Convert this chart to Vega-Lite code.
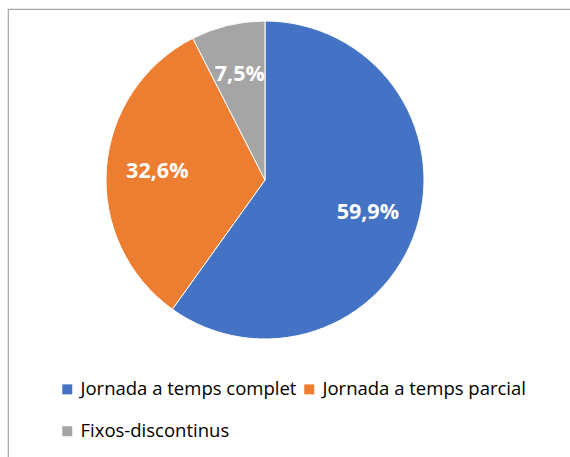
{
  "$schema": "https://vega.github.io/schema/vega-lite/v6.json",
  "autosize": {"type": "none"},
  "padding": {"left": 8, "top": 9, "right": 0, "bottom": 0},
  "width": 600,
  "height": 500,
  "background": "white",
  "view": {"stroke": "#a6a6a6", "strokeWidth": 1.2, "fill": "white"},
  "config": {
    "locale": {"number": {"decimal": ",", "thousands": ".", "grouping": [3], "currency": ["", " €"]}}
  },
  "data": {
    "values": [
      {"tipus": "Jornada a temps complet", "pct": 0.599, "ordre": 1},
      {"tipus": "Jornada a temps parcial", "pct": 0.326, "ordre": 2},
      {"tipus": "Fixos-discontinus", "pct": 0.075, "ordre": 3}
    ]
  },
  "encoding": {
    "theta": {"field": "pct", "type": "quantitative", "stack": true},
    "order": {"field": "ordre", "type": "quantitative"},
    "color": {
      "field": "tipus",
      "type": "nominal",
      "sort": ["Jornada a temps complet", "Jornada a temps parcial", "Fixos-discontinus"],
      "scale": {
        "domain": ["Jornada a temps complet", "Jornada a temps parcial", "Fixos-discontinus"],
        "range": ["#4472C4", "#ED7D31", "#A5A5A5"]
      },
      "legend": {
        "title": null,
        "orient": "none",
        "legendX": 50,
        "legendY": 371,
        "padding": 0,
        "direction": "horizontal",
        "columns": 2,
        "symbolType": "square",
        "symbolSize": 100,
        "symbolStrokeWidth": 0,
        "labelFont": "Open Sans",
        "labelFontSize": 18.5,
        "labelColor": "#000000",
        "labelLimit": 400,
        "labelOffset": 4,
        "columnPadding": 3,
        "rowPadding": 23
      }
    }
  },
  "layer": [
    {
      "mark": {"type": "arc", "outerRadius": 159, "x": 257, "y": 171, "stroke": "white", "strokeWidth": 1}
    },
    {
      "mark": {"type": "text", "radius": 108, "x": 257, "y": 171, "font": "Open Sans", "fontWeight": "bold", "fontSize": 21.5, "fill": "white"},
      "encoding": {
        "text": {"field": "pct", "type": "quantitative", "format": ".1%"},
        "color": {"value": "white"}
      }
    }
  ]
}
